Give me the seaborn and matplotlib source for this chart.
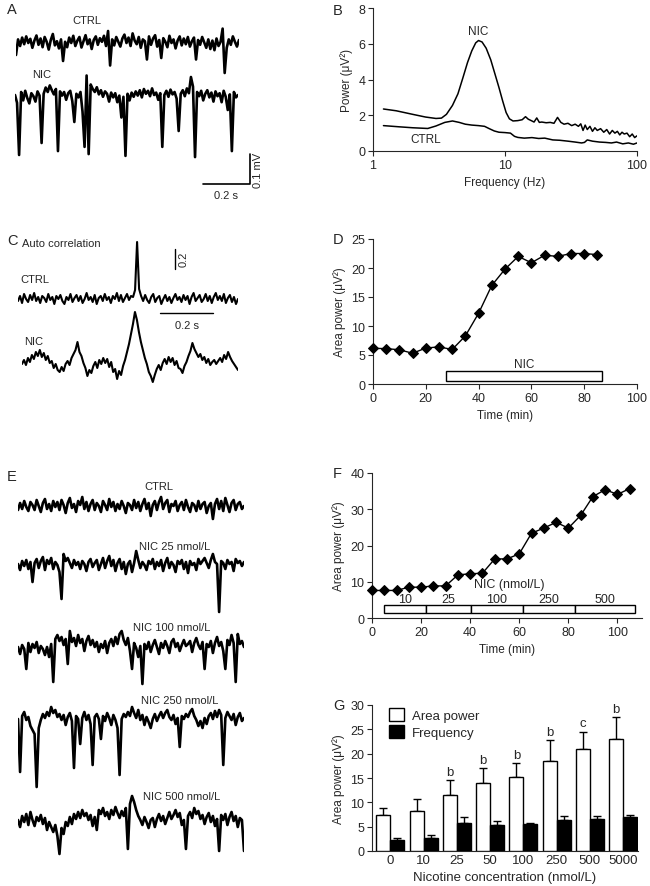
import numpy as np
import pandas as pd
import matplotlib
matplotlib.use("Agg")
import matplotlib.pyplot as plt
import seaborn as sns
from matplotlib.patches import Patch

sns.set_style("ticks")
plt.rcParams["font.family"] = ["Liberation Sans", "DejaVu Sans"]
plt.rcParams["font.size"] = 8.5
plt.rcParams["axes.linewidth"] = 0.8
plt.rcParams["xtick.major.width"] = 0.8
plt.rcParams["ytick.major.width"] = 0.8
plt.rcParams["xtick.major.size"] = 3.5
plt.rcParams["ytick.major.size"] = 3.5
plt.rcParams["xtick.labelsize"] = 9
plt.rcParams["ytick.labelsize"] = 9

# ---------------- data ----------------
# A: raw traces (uV)
a_ctrl = [-40, 12, -10, 18, -4, 22, 0, 14, -16, 8,
          25, -6, 15, -14, 20, 4, -22, 10, 30, -8,
          6, -18, 12, -60, 4, -14, 18, 0, 24, -10,
          8, 20, -15, 6, 26, -4, 12, -20, 10, 22,
          -6, 16, 4, 24, -10, 40, -75, 12, -8, 20,
          4, -12, 15, 28, 0, 18, -10, 32, 8, -4,
          20, -16, 12, 6, -55, 22, -6, 15, 26, -12,
          10, -50, 16, 4, -14, 24, 0, 12, -18, 8,
          22, -8, 15, -4, 20, -12, 6, 18, -55, 10,
          -6, 20, 2, -16, 12, -20, 8, -24, 15, -10,
          4, 48, -100, -16, 12, -6, 22, 4, -12, 10]
a_nic = [10, -16, -190, 20, -8, 24, 0, -18, 16, 6,
         -12, 22, 8, -150, 14, 35, 20, 42, 26, 12,
         30, -177, 22, 8, 20, -6, 16, 24, -10, -80,
         14, 2, 20, -45, -163, 75, -187, 45, 30, 20,
         36, 12, 26, 4, 22, 14, -12, 18, 2, 16,
         -14, 8, -65, 4, -193, 14, -8, 18, 4, 22,
         8, 26, 2, 30, 14, 24, 6, 32, 10, 18,
         -6, 16, -163, 10, 24, 4, 28, 12, 20, -2,
         -110, 14, 26, 6, 32, 16, 70, 38, -197, 20,
         6, 24, -8, 14, 26, 2, 18, -12, 22, 6,
         16, -14, 24, 4, -40, 12, -177, 20, 2, 10]

# B: power spectra
nic_freq = [1.2, 1.5, 2.0, 2.5, 3.0, 3.3, 3.6, 4.0, 4.4, 4.8, 5.2, 5.6, 6.0, 6.3,
            6.7, 7.2, 7.8, 8.4, 9.0, 9.6, 10.2, 10.8, 11.5, 12.5, 13.5, 14.3, 15.0,
            15.8, 16.6, 17.4, 18.2, 19.0, 20.5, 22, 23.5, 25, 26.5, 28, 30, 32, 34,
            36, 37.5, 39, 40.5, 42, 44, 46, 48, 50, 53, 56, 59, 62, 65, 68, 71, 74,
            77, 80, 84, 88, 92, 96, 100]
nic_power = [2.35, 2.25, 2.05, 1.9, 1.82, 1.84, 2.05, 2.55, 3.2, 4.1, 4.95, 5.6, 6.05,
             6.18, 6.1, 5.75, 5.1, 4.3, 3.55, 2.8, 2.15, 1.8, 1.68, 1.7, 1.75, 1.92,
             1.78, 1.7, 1.62, 1.85, 1.6, 1.62, 1.58, 1.6, 1.55, 1.88, 1.6, 1.5, 1.55,
             1.42, 1.5, 1.38, 1.52, 1.15, 1.45, 1.2, 1.38, 1.1, 1.3, 1.15, 1.25, 1.05,
             1.2, 0.95, 1.15, 1.0, 1.1, 0.9, 1.05, 0.95, 1.0, 0.8, 0.95, 0.75, 0.85]
ctrl_freq = [1.2, 1.6, 2.0, 2.6, 3.0, 3.5, 4.0, 4.5, 5.0, 5.6, 6.3, 7.0, 7.6, 8.3,
             9.0, 10.0, 11.0, 11.8, 12.5, 14, 16, 18, 20, 23, 26, 30, 34, 38, 40,
             42, 46, 52, 58, 64, 70, 78, 86, 94, 100]
ctrl_power = [1.42, 1.35, 1.3, 1.26, 1.4, 1.6, 1.68, 1.6, 1.5, 1.45, 1.42, 1.38, 1.25,
              1.12, 1.05, 1.03, 1.0, 0.82, 0.76, 0.72, 0.75, 0.7, 0.72, 0.62, 0.6,
              0.55, 0.5, 0.45, 0.48, 0.62, 0.55, 0.5, 0.48, 0.45, 0.5, 0.4, 0.45,
              0.38, 0.45]

# C: autocorrelation (units of 0.01)
c_ctrl = [-2, 3, -4, 5, 0, -3, 4, -1, 6, -2,
          2, -4, 3, 1, -3, 5, -1, 2, -5, 3,
          0, 4, -2, -5, 2, -1, 5, -3, 1, 4,
          -2, 3, -4, 0, 6, -1, 2, -3, 4, -5,
          1, 3, -2, 5, -1, 2, -4, 3, 0, 6,
          -2, 4, -3, 1, 5, -1, 3, 2, 9, 57,
          10, 3, -2, 4, -1, -4, 2, 5, -3, 1,
          3, -5, 0, 4, -2, 2, -4, 1, 5, -1,
          2, -3, 4, -1, 3, -5, 2, 6, -2, 1,
          4, -3, 0, 5, -2, 3, -4, 2, 6, -1,
          3, -2, 5, -4, 1, 4, -3, 2, -5, 0]
c_nic = [2, 6, 1, 8, 4, 11, 7, 14, 10, 16,
         9, 13, 6, 10, 3, 5, -2, 2, -4, -6,
         -1, -5, 2, 5, 1, 8, 12, 16, 24, 14,
         10, 3, -2, -10, -4, -7, 0, 4, -2, 6,
         2, 8, 3, 7, -1, 4, -6, -3, -13, -5,
         -9, 0, 6, 14, 22, 32, 42, 54, 46, 34,
         24, 16, 8, 2, -6, -10, -16, -9, -3, 1,
         -4, 3, 7, 2, 9, 4, 8, 1, 5, -2,
         -3, -7, 0, 4, 10, 15, 23, 17, 13, 9,
         12, 6, 9, 3, 7, 1, 4, 6, 2, 5,
         8, 4, 11, 7, 14, 9, 5, 2, -1, -4]

# D: area power time course
d_time = [0, 5, 10, 15, 20, 25, 30, 35, 40, 45, 50, 55, 60, 65, 70, 75, 80, 85]
d_power = [6.15, 6.1, 5.9, 5.3, 6.2, 6.4, 5.95, 8.3, 12.2, 17.0, 19.8, 22.0, 20.9,
           22.2, 22.0, 22.5, 22.5, 22.3]
d_nic_on, d_nic_off = 27.8, 86.7

# E: raw traces at increasing nicotine
e_labels = ["CTRL", "NIC 25 nmol/L", "NIC 100 nmol/L", "NIC 250 nmol/L", "NIC 500 nmol/L"]
e_ctrl = [-3, 4, -2, 6, 0, -4, 5, 2, -3, 7,
          1, -5, 4, 8, -2, 3, -4, 6, 0, 5,
          -3, 7, 2, -6, 4, 9, -1, 3, -5, 6,
          2, 10, -2, 5, -4, 3, 7, -3, 4, 1,
          -5, 6, 2, -3, 8, 0, 5, -4, 3, -2,
          6, 1, -6, 4, 2, -3, 7, -1, 5, -4,
          3, 8, -2, 4, -9, 2, 6, -3, 5, 10,
          -2, 4, 7, -5, 3, 1, 6, -4, 2, 5,
          -3, 7, 0, -5, 4, 2, -4, 6, -2, 3,
          5, -6, 1, 4, -12, 3, 8, -2, 6, -4,
          9, 2, -5, 4, 7, -3, 3, 5, -2, 1]
e_nic25 = [2, -4, 5, 0, 6, -3, 4, -16, 3, 7,
           -2, 5, 9, -4, 6, 2, 8, -3, 4, 1,
           -6, -33, 12, 5, 8, 3, -2, 6, 1, 4,
           -3, 5, 2, -5, 4, 7, -1, 3, 6, -4,
           2, 8, -2, 5, 10, 0, 6, -5, 3, 7,
           -3, 4, -8, 2, 5, -6, 3, 15, 6, -2,
           4, 1, -4, 5, 2, 7, -3, 4, 0, 6,
           -5, 3, 8, -2, 4, 1, -6, 5, 2, 6,
           -3, 4, -7, 5, 1, 3, -4, 7, 2, 5,
           8, 3, -2, 6, 12, 4, 2, -46, 5, 3,
           -3, 6, 2, 4, -5, 7, 3, 5, 0, 4]
e_nic100 = [2, -5, 4, 0, -20, 6, -3, 5, 1, 7,
            -4, 3, 0, -6, 2, -8, 5, -33, 10, 14,
            8, 12, 4, 10, -15, 18, 7, 11, 3, 14,
            6, 10, -2, 8, 13, 4, 9, 2, 7, -3,
            5, 1, 8, -4, 6, 10, 3, 12, 5, 15,
            18, 9, 4, 11, -2, -20, 6, 1, -8, 3,
            -35, 5, 0, 7, -3, 4, 9, 2, -5, 6,
            1, 8, 3, -4, 7, 10, 2, 6, -2, 4,
            9, 3, 5, 8, -3, 6, 11, 4, 0, 7,
            -20, 5, 2, 8, -4, 6, 12, 3, 7, -2,
            -20, 9, 4, 14, 6, -33, 15, 5, 8, 2]
e_nic250 = [3, -50, 6, 10, 2, 5, -4, -8, -12, -65,
            -6, 2, 8, 4, 10, 6, 15, 9, 12, 5,
            8, 2, 7, -3, 5, 9, 1, -46, 6, 3,
            -22, 4, 10, 2, 7, -2, -43, 5, 8, 3,
            -17, 6, 1, 9, 4, -3, 7, 2, -6, -53,
            3, 8, 5, 10, 6, 15, 9, 4, 12, 2,
            7, -3, 5, 0, -6, 3, 8, 1, 6, 10,
            4, 9, 12, 5, 2, 7, -2, 4, -25, 6,
            3, 8, 5, 10, 13, 6, 2, -4, 1, -6,
            4, -2, 6, 9, 3, 11, 5, 12, 7, -43,
            4, 10, 6, 2, 8, -3, 5, 9, 1, 4]
e_nic500 = [2, -5, 6, 0, 8, -3, 10, 2, -4, 5,
            1, 7, -2, 4, -8, 0, -5, -10, -3, -14,
            -32, -6, -12, 0, -4, 5, -2, 8, 3, 10,
            4, 12, 6, 9, 2, 7, -4, 5, -8, 12,
            8, 14, 6, 10, 3, 12, 7, 15, 9, 4,
            11, 6, 14, -27, 18, 26, 20, 12, 6, 2,
            -3, 5, 0, -6, 2, 4, -5, 3, 8, 1,
            6, -2, 4, 10, 3, 7, 12, 5, 9, -3,
            2, -27, 6, 10, 4, 14, 8, 11, 3, 7,
            -2, 5, 9, 0, 6, -4, 3, -29, 7, 2,
            8, -3, 5, 10, 1, 6, -5, 4, 2, -29]

# F: area power during cumulative nicotine
f_time = [0, 5, 10, 15, 20, 25, 30, 35, 40, 45, 50, 55, 60, 65, 70, 75, 80, 85,
          90, 95, 100, 105]
f_power = [7.6, 7.6, 7.6, 8.5, 8.5, 8.85, 8.85, 11.9, 12.2, 12.35, 16.3, 16.3, 17.7,
           23.4, 24.8, 26.4, 24.8, 28.3, 33.5, 35.4, 34.1, 35.7]
f_doses = ["10", "25", "100", "250", "500"]
f_dose_start = [4.7, 22.0, 40.3, 61.5, 82.7]
f_dose_end = [22.0, 40.3, 61.5, 82.7, 107.0]

# G: concentration-response
g_conc = ["0", "10", "25", "50", "100", "250", "500", "5000"]
g_area = [7.4, 8.2, 11.5, 13.9, 15.3, 18.4, 21.0, 23.0]
g_area_err = [1.45, 2.4, 3.0, 3.1, 2.7, 4.4, 3.5, 4.5]
g_freq = [2.2, 2.65, 5.8, 5.25, 5.5, 6.3, 6.5, 6.9]
g_freq_err = [0.5, 0.7, 1.1, 0.85, 0.35, 0.8, 0.6, 0.55]
g_sig = ["", "", "b", "b", "b", "b", "c", "b"]

# ---------------- layout helpers ----------------
W, H = 650, 887
fig = plt.figure(figsize=(W / 100, H / 100), dpi=100)


def box(l, t, r, b):
    return fig.add_axes([l / W, 1 - b / H, (r - l) / W, (b - t) / H])


def trace(vals, x0, x1, base, px_per_unit, lw=1.9):
    ax = box(x0, base - 100, x1, base + 100)
    df = pd.DataFrame({"i": np.arange(len(vals)), "v": vals})
    sns.lineplot(data=df, x="i", y="v", ax=ax, color="black", lw=lw)
    ax.set_xlim(0, len(vals) - 1)
    ax.set_ylim(-100 / px_per_unit, 100 / px_per_unit)
    ax.axis("off")
    ax.patch.set_visible(False)
    return ax


def style(ax):
    sns.despine(ax=ax)
    ax.tick_params(direction="out", pad=2)


# ---------------- A ----------------
trace(a_ctrl, 16, 239, 44, 0.3)
trace(a_nic, 15, 238, 99, 0.3)

# ---------------- B ----------------
axB = box(373, 9, 637, 152)
sns.lineplot(x=nic_freq, y=nic_power, ax=axB, color="black", lw=1.1)
sns.lineplot(x=ctrl_freq, y=ctrl_power, ax=axB, color="black", lw=1.1)
axB.set_xscale("log")
axB.set_xlim(1, 100)
axB.set_ylim(0, 8)
axB.set_xticks([1, 10, 100])
axB.set_xticklabels(["1", "10", "100"])
axB.minorticks_off()
axB.set_yticks([0, 2, 4, 6, 8])
axB.set_xlabel("Frequency (Hz)")
axB.set_ylabel("Power (\u03bcV\u00b2)")
axB.text(6.3, 6.7, "NIC", ha="center", va="center", fontsize=8.5)
axB.text(2.5, 0.65, "CTRL", ha="center", va="center", fontsize=8.5)
style(axB)

# ---------------- C ----------------
trace(c_ctrl, 18, 238, 300, 1.0, lw=1.5)
trace(c_nic, 22, 238, 367, 1.0, lw=1.5)

# ---------------- D ----------------
axD = box(373, 240, 637, 385)
sns.lineplot(x=d_time, y=d_power, ax=axD, color="black", lw=1, marker="D",
             markersize=5, markeredgecolor="black", clip_on=False, zorder=4)
axD.barh(1.4, d_nic_off - d_nic_on, left=d_nic_on, height=1.65, color="white",
         edgecolor="black", lw=1)
axD.text((d_nic_on + d_nic_off) / 2, 3.5, "NIC", ha="center", va="center")
axD.set_xlim(0, 100)
axD.set_ylim(0, 25)
axD.set_xticks(range(0, 101, 20))
axD.set_yticks(range(0, 26, 5))
axD.set_xlabel("Time (min)")
axD.set_ylabel("Area power (\u03bcV\u00b2)")
style(axD)

# ---------------- E ----------------
e_traces = [e_ctrl, e_nic25, e_nic100, e_nic250, e_nic500]
e_bases = [508, 567, 650, 723, 823]
e_label_xy = [(159, 487), (175, 547), (172, 628), (180, 701), (182, 797)]
for vals, base in zip(e_traces, e_bases):
    trace(vals, 18, 244, base, 1.0)

# ---------------- F ----------------
axF = box(372, 474, 642, 619)
sns.lineplot(x=f_time, y=f_power, ax=axF, color="black", lw=1, marker="D",
             markersize=5, markeredgecolor="black", clip_on=False, zorder=4)
widths = [e - s for s, e in zip(f_dose_start, f_dose_end)]
axF.barh([2.5] * len(f_doses), widths, left=f_dose_start, height=2.2,
         color="white", edgecolor="black", lw=1)
for s, e, lab in zip(f_dose_start, f_dose_end, f_doses):
    axF.text((s + e) / 2, 5.3, lab, ha="center", va="center", fontsize=9)
axF.text(56, 9.3, "NIC (nmol/L)", ha="center", va="center", fontsize=9)
axF.set_xlim(0, 110)
axF.set_ylim(0, 40)
axF.set_xticks(range(0, 101, 20))
axF.set_yticks(range(0, 41, 10))
axF.set_xlabel("Time (min)")
axF.set_ylabel("Area power (\u03bcV\u00b2)")
style(axF)

# ---------------- G ----------------
axG = box(372, 706, 638, 852)
g_df = pd.DataFrame({
    "conc": g_conc * 2,
    "value": g_area + g_freq,
    "measure": ["Area power"] * len(g_conc) + ["Frequency"] * len(g_conc),
})
sns.barplot(data=g_df, x="conc", y="value", hue="measure", ax=axG,
            palette={"Area power": "white", "Frequency": "black"},
            edgecolor="black", linewidth=1, width=0.84, errorbar=None,
            legend=False, zorder=3)
bars = axG.patches[:2 * len(g_conc)]
centers = [p.get_x() + p.get_width() / 2 for p in bars]
heights = [p.get_height() for p in bars]
errs = g_area_err + g_freq_err
axG.errorbar(centers, heights, yerr=[[0] * len(errs), errs], fmt="none",
             ecolor="black", elinewidth=1, capsize=3, capthick=1, zorder=2)
for c, h, e, s in zip(centers[:len(g_conc)], g_area, g_area_err, g_sig):
    if s:
        axG.text(c, h + e + 0.5, s, ha="center", va="bottom", fontsize=9.5)
axG.legend(handles=[Patch(facecolor="white", edgecolor="black", label="Area power"),
                    Patch(facecolor="black", edgecolor="black", label="Frequency")],
           loc="upper left", bbox_to_anchor=(0.02, 1.06), frameon=False,
           handlelength=1.1, handleheight=1.1, handletextpad=0.6,
           labelspacing=0.25, fontsize=9.5)
axG.set_xlim(-0.55, 7.45)
axG.set_ylim(0, 30)
axG.set_yticks(range(0, 31, 5))
axG.tick_params(axis="x", length=0, labelsize=9.5)
axG.set_xlabel("Nicotine concentration (nmol/L)", fontsize=9.5)
axG.set_ylabel("Area power (\u03bcV\u00b2)")
style(axG)

# ---------------- overlay: labels and scale bars ----------------
ov = fig.add_axes([0, 0, 1, 1])
ov.set_xlim(0, W)
ov.set_ylim(H, 0)
ov.axis("off")
ov.patch.set_visible(False)

for lab, x, y in [("A", 7, 10), ("B", 333, 11), ("C", 7, 241), ("D", 333, 240),
                  ("E", 7, 477), ("F", 333, 474), ("G", 333, 706)]:
    ov.text(x, y, lab, fontsize=10.5, ha="left", va="center")

ov.text(87, 21, "CTRL", ha="center", va="center", fontsize=8)
ov.text(42, 75, "NIC", ha="center", va="center", fontsize=8)
ov.plot([250, 250, 203], [155, 185, 185], color="black", lw=1.2)
ov.text(258, 170, "0.1 mV", rotation=90, ha="center", va="center", fontsize=8)
ov.text(226, 196, "0.2 s", ha="center", va="center", fontsize=8)

ov.text(22, 244, "Auto correlation", ha="left", va="center", fontsize=8)
ov.text(20, 280, "CTRL", ha="left", va="center", fontsize=8)
ov.text(24, 342, "NIC", ha="left", va="center", fontsize=8)
ov.plot([175, 175], [250, 270], color="black", lw=1)
ov.text(184, 259, "0.2", rotation=90, ha="center", va="center", fontsize=8)
ov.plot([160, 213], [314, 314], color="black", lw=1)
ov.text(187, 326, "0.2 s", ha="center", va="center", fontsize=8)

for lab, (x, y) in zip(e_labels, e_label_xy):
    ov.text(x, y, lab, ha="center", va="center", fontsize=8)

fig.savefig("out.png", dpi=100)
